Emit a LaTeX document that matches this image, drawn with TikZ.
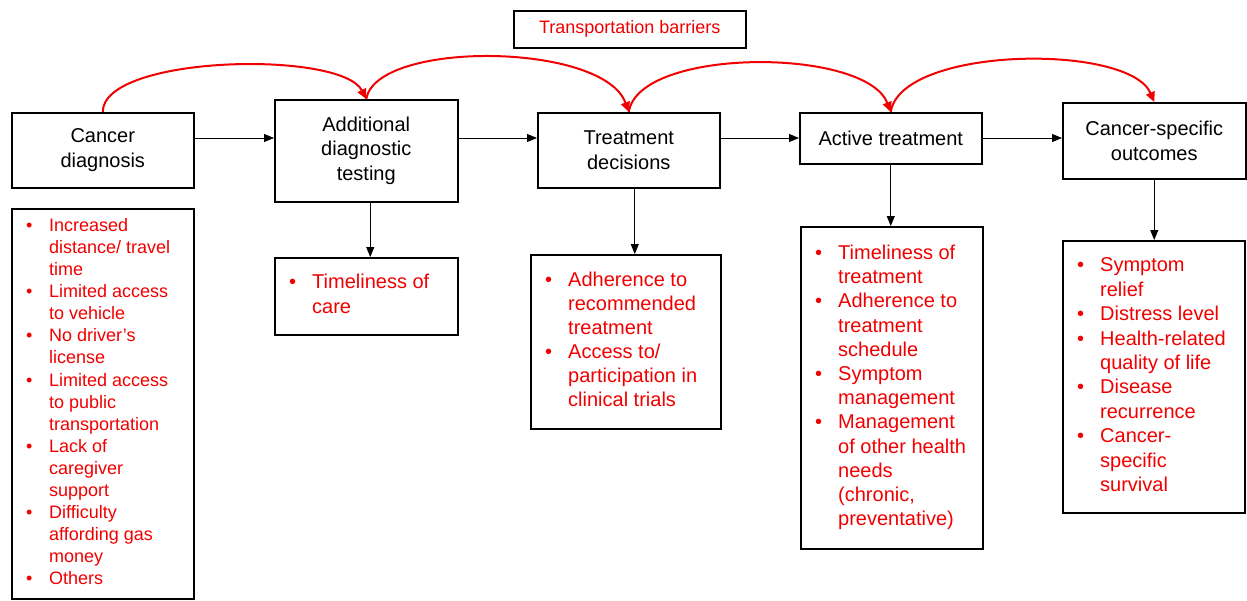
\documentclass[tikz,border=0pt]{standalone}
\usepackage{fontspec}
\setmainfont{Liberation Sans}
\usetikzlibrary{arrows.meta,calc}
\definecolor{tred}{RGB}{240,0,0}
\newcommand{\bul}{\textbullet}
\newcommand{\lstab}[1]{\begin{tabular}{@{}p{23pt}@{}l@{}}#1\end{tabular}}
\begin{document}
\begin{tikzpicture}[x=1pt,y=-1pt,
  box/.style={draw, line width=1.5pt, anchor=north west, inner sep=0pt, align=center, font=\fontsize{20}{24.5}\selectfont},
  lstA/.style={anchor=west, inner sep=0pt, text=tred, font=\fontsize{18}{22.1}\selectfont},
  lstB/.style={anchor=west, inner sep=0pt, text=tred, font=\fontsize{20}{24.2}\selectfont},
  arr/.style={line width=0.8pt, -{Triangle[length=10pt,width=8pt]}},
  redarc/.style={tred, line width=2pt, -{Triangle[length=10pt,width=9pt]}}]
\useasboundingbox (0,0) rectangle (1247,600);
% top boxes
\node[box, minimum width=182, minimum height=75] (cd) at (11,112) {Cancer\\diagnosis};
\node[box, minimum width=183, minimum height=102] (adt) at (274,99) {Additional\\diagnostic\\testing};
\node[box, minimum width=182, minimum height=75] (td) at (537,112) {Treatment\\decisions};
\node[box, minimum width=182, minimum height=51] (act) at (799,112) {Active treatment};
\node[box, minimum width=183, minimum height=76] (out) at (1062,102) {Cancer-specific\\outcomes};
\node[box, minimum width=232, minimum height=37, text=tred, font=\fontsize{18}{22}\selectfont] (tb) at (513,10) {Transportation barriers};
% list boxes
\node[box, minimum width=182, minimum height=390] (l1) at (11,208) {};
\node[box, minimum width=183, minimum height=77] (l2) at (274,257) {};
\node[box, minimum width=190, minimum height=174] (l3) at (530,254) {};
\node[box, minimum width=182, minimum height=322] (l4) at (800,226) {};
\node[box, minimum width=182, minimum height=272] (l5) at (1062,240) {};
% list texts
\node[lstA] (l1t) at ($(l1.west)+(15,0)$) {\lstab{%
\bul & Increased\\ & distance/ travel\\ & time\\
\bul & Limited access\\ & to vehicle\\
\bul & No driver’s\\ & license\\
\bul & Limited access\\ & to public\\ & transportation\\
\bul & Lack of\\ & caregiver\\ & support\\
\bul & Difficulty\\ & affording gas\\ & money\\
\bul & Others}};
\node[lstB] (l2t) at ($(l2.west)+(15,0)$) {\lstab{%
\bul & Timeliness of\\ & care}};
\node[lstB, font=\fontsize{20}{24}\selectfont] (l3t) at ($(l3.west)+(15,0)$) {\lstab{%
\bul & Adherence to\\ & recommended\\ & treatment\\
\bul & Access to/\\ & participation in\\ & clinical trials}};
\node[lstB] (l4t) at ($(l4.west)+(15,0)$) {\lstab{%
\bul & Timeliness of\\ & treatment\\
\bul & Adherence to\\ & treatment\\ & schedule\\
\bul & Symptom\\ & management\\
\bul & Management\\ & of other health\\ & needs\\ & (chronic,\\ & preventative)}};
\node[lstB, font=\fontsize{20}{24.4}\selectfont] (l5t) at ($(l5.west)+(15,0)$) {\lstab{%
\bul & Symptom\\ & relief\\
\bul & Distress level\\
\bul & Health-related\\ & quality of life\\
\bul & Disease\\ & recurrence\\
\bul & Cancer-\\ & specific\\ & survival}};
% horizontal arrows
\coordinate (lvl) at (0,138);
\draw[arr] (cd.east |- lvl) -- (adt.west |- lvl);
\draw[arr] (adt.east |- lvl) -- (td.west |- lvl);
\draw[arr] (td.east |- lvl) -- (act.west |- lvl);
\draw[arr] (act.east |- lvl) -- (out.west |- lvl);
% vertical arrows
\draw[arr] ([xshift=4pt]adt.south) -- ([xshift=4pt]adt.south |- l2.north);
\draw[arr] ([xshift=6pt]td.south) -- ([xshift=6pt]td.south |- l3.north);
\draw[arr] (act.south) -- (act.south |- l4.north);
\draw[arr] (out.south) -- (out.south |- l5.north);
% red arcs
\draw[redarc] (cd.north) .. controls +(0,-57) and +(-25,-49) .. (adt.north);
\draw[redarc] (adt.north) .. controls +(10,-59) and +(-25,-70) .. (td.north);
\draw[redarc] (td.north) .. controls +(10,-65) and +(-25,-65) .. (act.north);
\draw[redarc] (act.north) .. controls +(10,-66) and +(-25,-59) .. (out.north);
\end{tikzpicture}
\end{document}
